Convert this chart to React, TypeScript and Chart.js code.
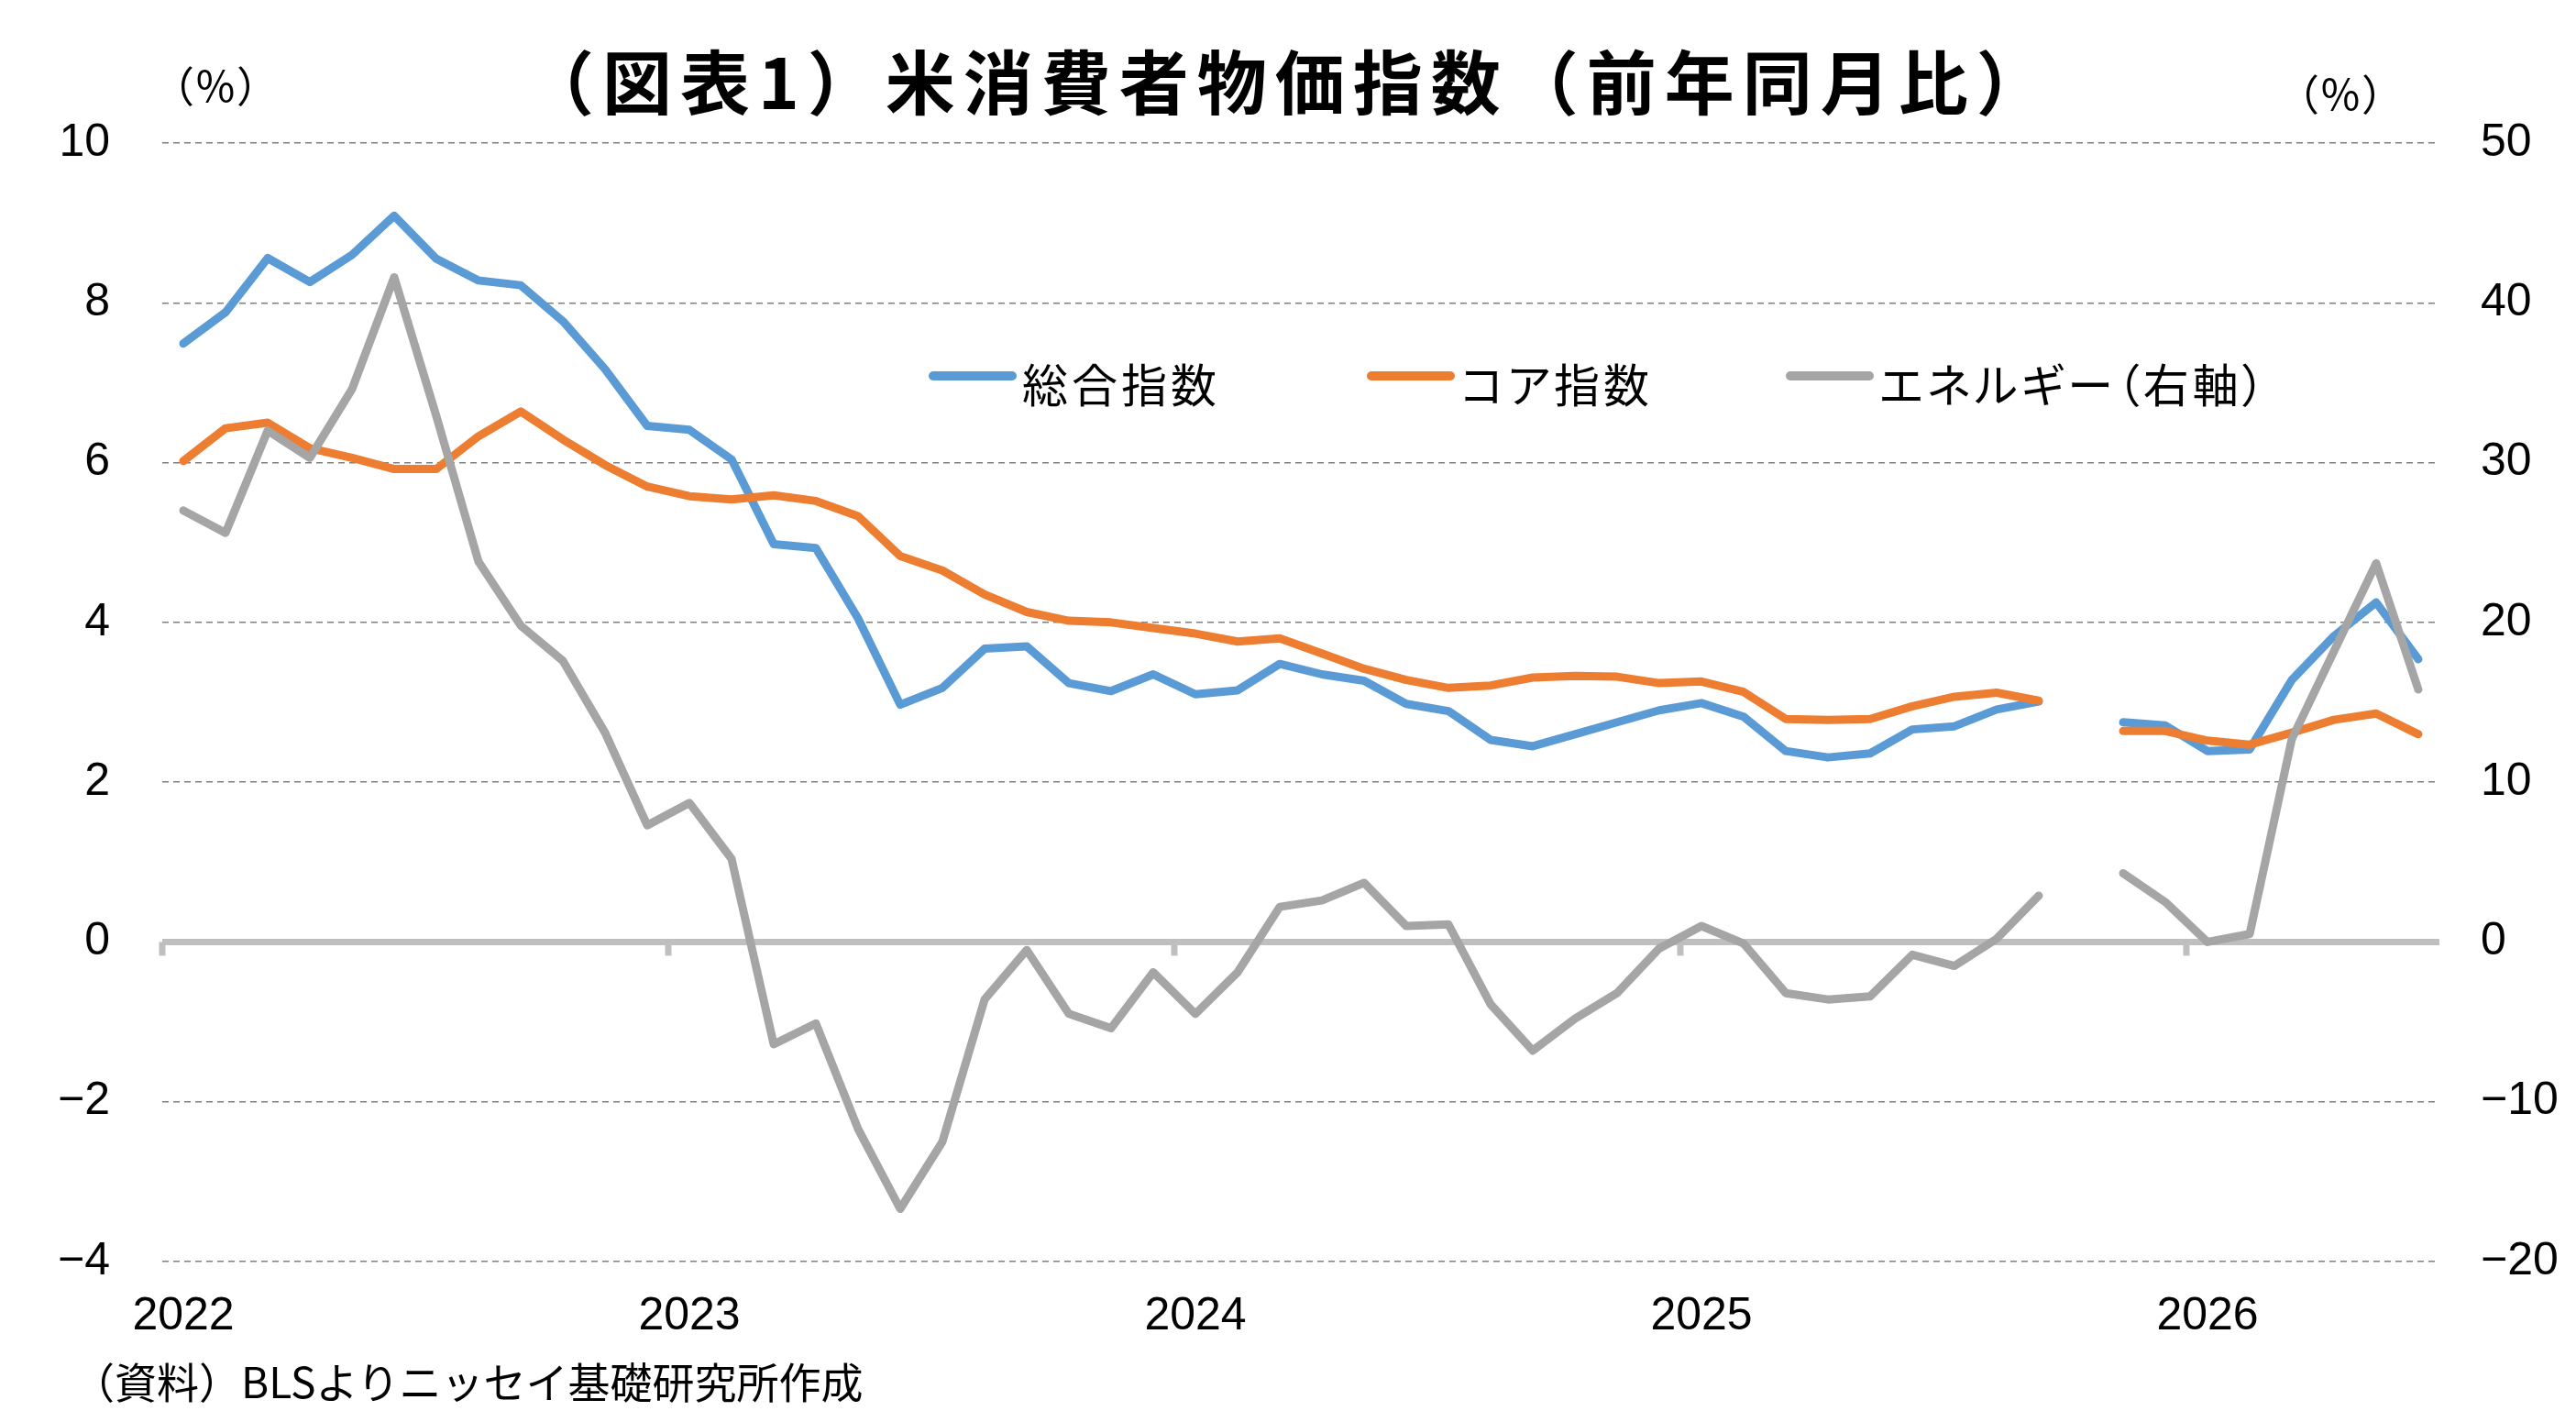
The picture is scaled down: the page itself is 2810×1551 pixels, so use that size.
import { useEffect, useRef } from "react";
import { Chart, registerables } from "chart.js";

Chart.register(...registerables);

// 2022/1 ... 2026/6, one point per month
const years = ["2022", "2023", "2024", "2025", "2026"];
const categories = years
  .flatMap((y) => Array.from({ length: 12 }, (_, m) => `${y}/${m + 1}`))
  .slice(0, 54);

// 総合指数 (%), 2025/10 は欠測
const headline = [
  7.49, 7.88, 8.56, 8.26, 8.6, 9.09, 8.55, 8.28, 8.22, 7.77, 7.17, 6.46,
  6.41, 6.04, 4.98, 4.93, 4.05, 2.97, 3.18, 3.67, 3.7, 3.24, 3.14, 3.35,
  3.1, 3.15, 3.48, 3.35, 3.27, 2.98, 2.89, 2.53, 2.45, 2.6, 2.75, 2.9,
  2.99, 2.82, 2.39, 2.31, 2.36, 2.66, 2.7, 2.91, 3.01, null, 2.75, 2.71,
  2.39, 2.41, 3.28, 3.83, 4.25, 3.54,
];

// コア指数 (%)
const core = [
  6.02, 6.43, 6.5, 6.18, 6.06, 5.92, 5.92, 6.33, 6.64, 6.29, 5.97, 5.7,
  5.58, 5.54, 5.59, 5.52, 5.33, 4.83, 4.65, 4.35, 4.13, 4.02, 4.0, 3.93,
  3.86, 3.76, 3.8, 3.61, 3.42, 3.28, 3.18, 3.21, 3.31, 3.33, 3.32, 3.24,
  3.26, 3.13, 2.79, 2.78, 2.79, 2.95, 3.07, 3.12, 3.02, null, 2.64, 2.64,
  2.52, 2.47, 2.62, 2.78, 2.86, 2.6,
];

// エネルギー (%), 右軸
const energy = [
  27.0, 25.6, 32.0, 30.3, 34.6, 41.6, 32.9, 23.8, 19.8, 17.6, 13.1, 7.3,
  8.7, 5.2, -6.4, -5.1, -11.7, -16.7, -12.5, -3.6, -0.5, -4.5, -5.4, -1.9,
  -4.5, -1.9, 2.2, 2.6, 3.7, 1.0, 1.1, -3.9, -6.8, -4.8, -3.2, -0.4,
  1.0, -0.1, -3.2, -3.6, -3.4, -0.8, -1.5, 0.2, 2.9, null, 4.3, 2.5,
  0.0, 0.5, 12.7, 18.2, 23.7, 15.8,
];

const seriesNames = ["総合指数", "コア指数", "エネルギー（右軸）"];
const seriesColors = ["#5B9BD5", "#ED7D31", "#A5A5A5"];
const legendLeft = [1013, 1491, 1948];

const tickFont = { family: "'Liberation Sans', Arial, sans-serif", size: 50 };
const jpFont = "'Noto Sans CJK JP', sans-serif";

const minus = (v: number | string) => String(v).replace("-", "\u2212");

// year tick marks hanging from the zero line
const yearTicks = {
  id: "yearTicks",
  beforeDatasetsDraw(chart: any) {
    const { ctx } = chart;
    const x = chart.scales.x;
    const y = chart.scales.y;
    const step = x.getPixelForValue(1) - x.getPixelForValue(0);
    const y0 = y.getPixelForValue(0);
    ctx.save();
    ctx.strokeStyle = "#BFBFBF";
    ctx.lineWidth = 7;
    for (let i = 0; i < categories.length; i += 12) {
      const px = x.getPixelForValue(i) - step / 2;
      ctx.beginPath();
      ctx.moveTo(px, y0);
      ctx.lineTo(px, y0 + 15);
      ctx.stroke();
    }
    ctx.restore();
  },
};

function CpiChart() {
  const ref = useRef<HTMLCanvasElement>(null);

  useEffect(() => {
    let chart: Chart;
    if (ref.current) {
      const line = (i: number, data: (number | null)[], axis: string, order: number) => ({
        label: seriesNames[i],
        data,
        yAxisID: axis,
        order,
        borderColor: seriesColors[i],
        backgroundColor: seriesColors[i],
        borderWidth: 9,
        borderCapStyle: "round" as const,
        borderJoinStyle: "round" as const,
        pointRadius: 0,
        tension: 0,
        spanGaps: false,
      });

      chart = new Chart(ref.current, {
        type: "line",
        data: {
          labels: categories,
          datasets: [
            line(0, headline, "y", 3),
            line(1, core, "y", 2),
            line(2, energy, "y2", 1),
          ],
        },
        options: {
          animation: false,
          responsive: false,
          devicePixelRatio: 1,
          layout: { padding: { top: 156, left: 0, right: 0, bottom: 0 } },
          plugins: {
            legend: { display: false },
            tooltip: { enabled: false },
          },
          scales: {
            x: {
              type: "category",
              offset: true,
              grid: { display: false },
              border: { display: false },
              ticks: {
                autoSkip: false,
                maxRotation: 0,
                padding: 22,
                color: "#000",
                font: tickFont,
                callback: (_v: any, i: number) => (i % 12 === 0 ? years[i / 12] : ""),
              },
              afterFit: (s: any) => {
                s.height = 175;
              },
            },
            y: {
              position: "left",
              min: -4,
              max: 10,
              ticks: {
                stepSize: 2,
                padding: 57,
                color: "#000",
                font: tickFont,
                callback: (v: any) => minus(v),
              },
              grid: {
                drawTicks: false,
                color: (c: any) => (c.tick && c.tick.value === 0 ? "#BFBFBF" : "#808080"),
                lineWidth: (c: any) => (c.tick && c.tick.value === 0 ? 7 : 1.5),
              },
              border: {
                display: false,
                dash: (c: any) => (c.tick && c.tick.value === 0 ? [] : [7, 5]),
              },
              afterFit: (s: any) => {
                s.width = 177;
              },
            },
            y2: {
              position: "right",
              min: -20,
              max: 50,
              ticks: {
                stepSize: 10,
                padding: 45,
                color: "#000",
                font: tickFont,
                callback: (v: any) => minus(v),
              },
              grid: { drawOnChartArea: false, drawTicks: false },
              border: { display: false },
              afterFit: (s: any) => {
                s.width = 149;
              },
            },
          },
        },
        plugins: [yearTicks],
      });
    }
    return () => {
      chart?.destroy();
    };
  }, []);

  return <canvas ref={ref} width={2810} height={1551} style={{ position: "absolute", left: 0, top: 0 }} />;
}

export default function App() {
  useEffect(() => {
    document.body.style.margin = "0";
    document.body.style.overflow = "hidden";
  }, []);

  const text = (extra: any) => ({
    position: "absolute" as const,
    fontFamily: jpFont,
    lineHeight: 1,
    whiteSpace: "nowrap" as const,
    color: "#000",
    ...extra,
  });

  return (
    <div style={{ position: "relative", width: 2810, height: 1551, background: "#fff", overflow: "hidden" }}>
      <CpiChart />
      <div style={text({ left: 572, top: 48, fontSize: 76, fontWeight: 700, letterSpacing: 9 })}>
        （図表1）米消費者物価指数（前年同月比）
      </div>
      <div style={text({ left: 166, top: 68, fontSize: 46 })}>（％）</div>
      <div style={text({ left: 2484, top: 77, fontSize: 46 })}>（％）</div>
      {seriesNames.map((name, i) => (
        <div key={name}>
          <div
            style={{
              position: "absolute",
              left: legendLeft[i],
              top: 405,
              width: 96,
              height: 10,
              borderRadius: 5,
              background: seriesColors[i],
            }}
          />
          <div
            style={text({
              left: legendLeft[i] + 102,
              top: 392,
              fontSize: 50,
              letterSpacing: 4,
              fontFeatureSettings: '"palt"',
            })}
          >
            {name}
          </div>
        </div>
      ))}
      <div style={text({ left: 79, top: 1482, fontSize: 46 })}>（資料）BLSよりニッセイ基礎研究所作成</div>
    </div>
  );
}
